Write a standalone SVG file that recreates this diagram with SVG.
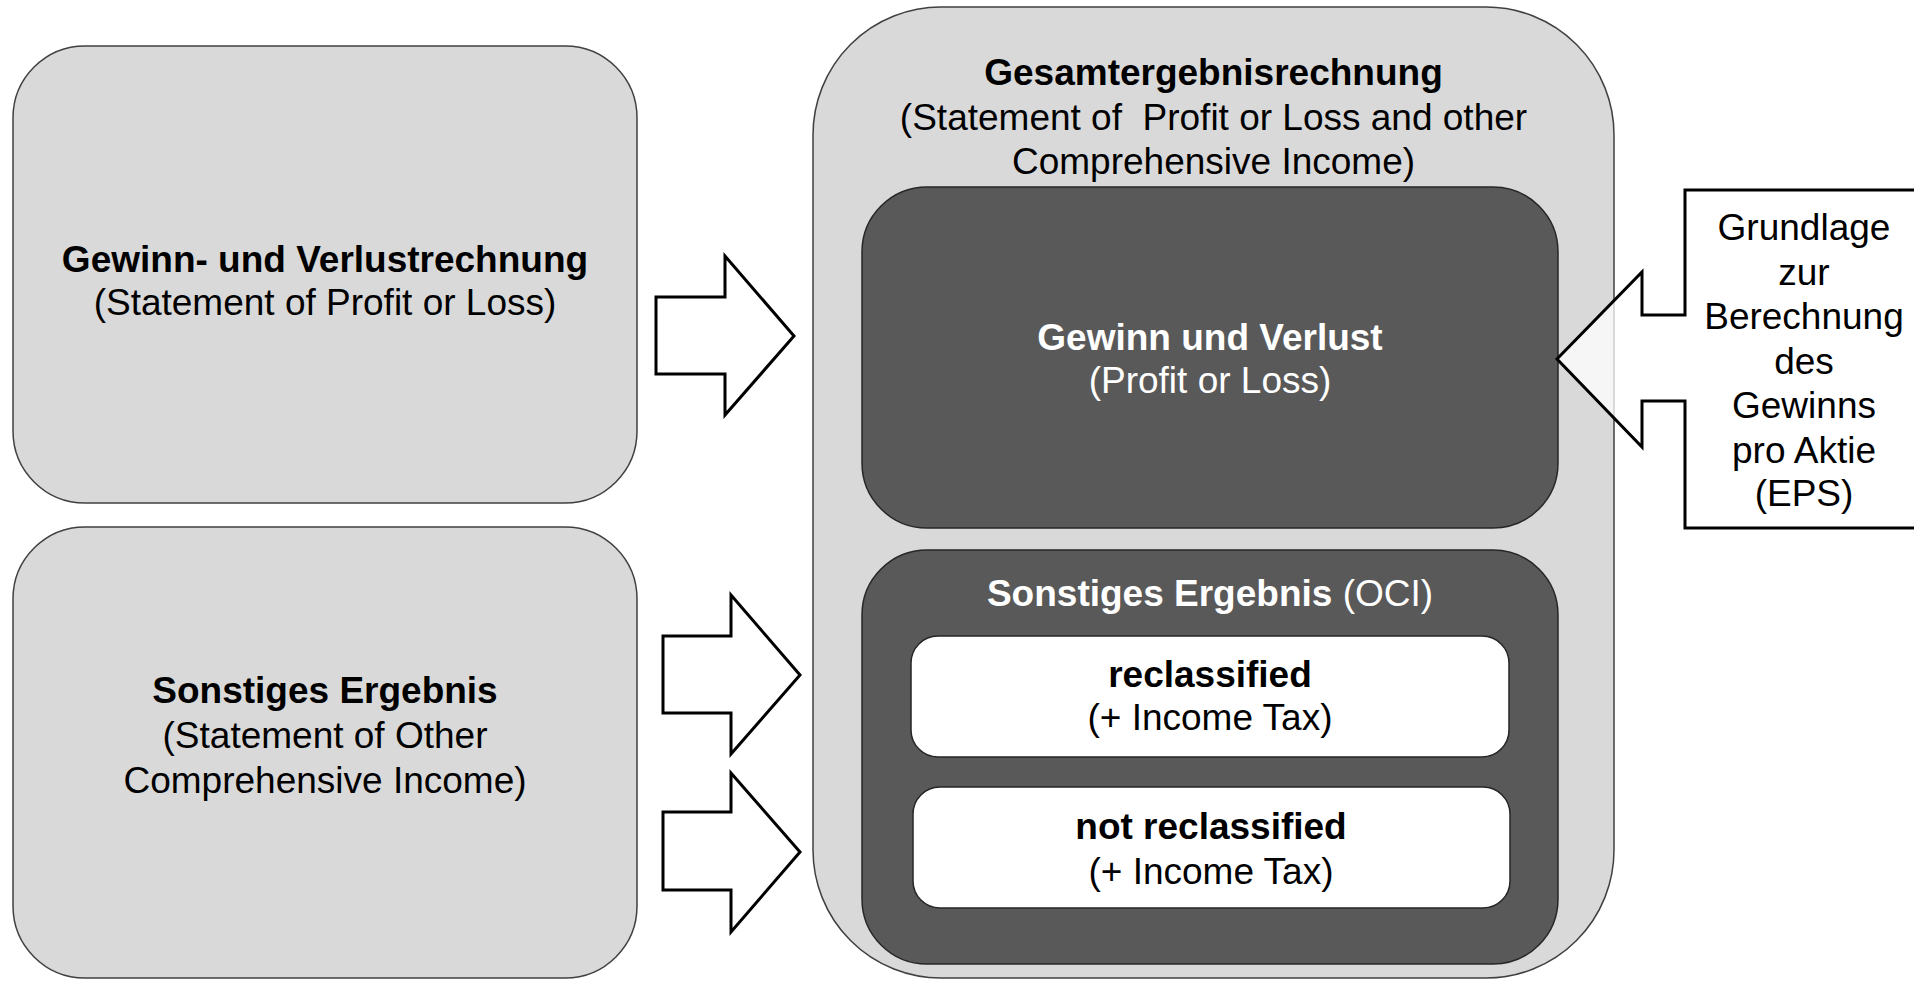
<svg xmlns="http://www.w3.org/2000/svg" width="1914" height="982" viewBox="0 0 1914 982">
<style>
text{font-family:"Liberation Sans",Arial,sans-serif;font-size:37px;text-anchor:middle}
.b{font-weight:bold}
.w{fill:#ffffff}
.k{fill:#000000}
.gray{fill:#d9d9d9;stroke:#404040;stroke-width:1.5}
.dark{fill:#595959;stroke:#262626;stroke-width:1.5}
.white{fill:#ffffff;stroke:#262626;stroke-width:1.5}
.arrow{fill:#ffffff;stroke:#000000;stroke-width:3;stroke-linejoin:miter}
</style>
<rect width="1914" height="982" fill="#ffffff"/>
<g id="guv">
<rect class="gray" x="13" y="46" width="624" height="457" rx="72" ry="72"/>
<text class="b k" x="325" y="272">Gewinn- und Verlustrechnung</text>
<text class="k" x="325" y="315">(Statement of Profit or Loss)</text>
</g>
<g id="sonstiges">
<rect class="gray" x="13" y="527" width="624" height="451" rx="72" ry="72"/>
<text class="b k" x="325" y="703">Sonstiges Ergebnis</text>
<text class="k" x="325" y="748">(Statement of Other</text>
<text class="k" x="325" y="793">Comprehensive Income)</text>
</g>
<g id="gesamt">
<rect class="gray" x="813" y="7" width="801" height="971" rx="128" ry="128"/>
<text class="b k" x="1213.5" y="85">Gesamtergebnisrechnung</text>
<text class="k" x="1213.5" y="129.5" xml:space="preserve">(Statement of  Profit or Loss and other</text>
<text class="k" x="1213.5" y="174">Comprehensive Income)</text>
</g>
<g id="gewinn-verlust">
<rect class="dark" x="862" y="187" width="696" height="341" rx="65" ry="65"/>
<text class="b w" x="1210" y="350">Gewinn und Verlust</text>
<text class="w" x="1210" y="393">(Profit or Loss)</text>
</g>
<g id="oci">
<rect class="dark" x="862" y="550" width="696" height="414" rx="65" ry="65"/>
<text class="w" x="1210" y="606"><tspan class="b">Sonstiges Ergebnis</tspan> (OCI)</text>
</g>
<g id="reclassified">
<rect class="white" x="911" y="636" width="598" height="121" rx="27" ry="27"/>
<text class="b k" x="1210" y="687">reclassified</text>
<text class="k" x="1210" y="730">(+ Income Tax)</text>
</g>
<g id="not-reclassified">
<rect class="white" x="913" y="787" width="597" height="121" rx="27" ry="27"/>
<text class="b k" x="1211" y="839">not reclassified</text>
<text class="k" x="1211" y="884">(+ Income Tax)</text>
</g>
<g id="eps">
<path d="M1685,190 L1920,190 L1920,528 L1685,528 L1685,401 L1642,401 L1642,447 L1557,359 L1642,272 L1642,315 L1685,315 Z" fill="#ffffff" fill-opacity="0.75" stroke="#000000" stroke-width="3"/>
<text class="k" x="1804" y="240">Grundlage</text>
<text class="k" x="1804" y="284.5">zur</text>
<text class="k" x="1804" y="329">Berechnung</text>
<text class="k" x="1804" y="373.5">des</text>
<text class="k" x="1804" y="418">Gewinns</text>
<text class="k" x="1804" y="462.5">pro Aktie</text>
<text class="k" x="1804" y="506">(EPS)</text>
</g>
<g id="connectors">
<path class="arrow" d="M656,297 L725,297 L725,256 L794,336 L725,415 L725,374 L656,374 Z"/>
<path class="arrow" d="M663,636 L731,636 L731,595 L800,675 L731,754 L731,713 L663,713 Z"/>
<path class="arrow" d="M663,812 L731,812 L731,773 L800,852 L731,932 L731,890 L663,890 Z"/>
</g>
</svg>
